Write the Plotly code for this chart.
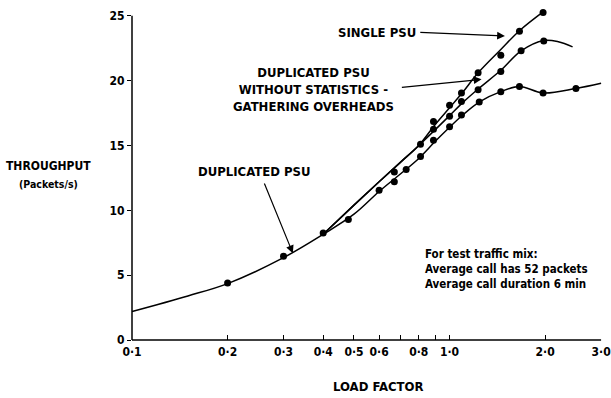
import numpy as np
import plotly.graph_objects as go

# Smooth curve nodes (load factor vs throughput, packets/s)
dup_x = [0.1, 0.15, 0.2, 0.3, 0.4, 0.5, 0.6, 0.7, 0.8, 0.9, 1.0, 1.1, 1.25, 1.45, 1.66, 1.97, 2.5, 3.0]
dup_y = [2.2, 3.4, 4.35, 6.35, 8.15, 9.7, 11.45, 12.8, 14.0, 15.3, 16.4, 17.35, 18.4, 19.15, 19.55, 19.05, 19.4, 19.8]

single_x = [0.4, 0.5, 0.6, 0.7, 0.8, 0.9, 1.0, 1.1, 1.23, 1.45, 1.66, 1.97]
single_y = [8.15, 10.4, 12.2, 13.7, 15.0, 16.6, 17.9, 19.1, 20.6, 22.4, 23.85, 25.3]

nostat_x = [0.4, 0.5, 0.6, 0.7, 0.8, 0.9, 1.0, 1.1, 1.23, 1.45, 1.68, 1.98, 2.2, 2.44]
nostat_y = [8.15, 10.4, 12.2, 13.7, 15.0, 16.2, 17.3, 18.3, 19.35, 20.8, 22.3, 23.1, 23.0, 22.6]

# Measured points
dup_pts_x = [0.2, 0.3, 0.4, 0.48, 0.6, 0.67, 0.73, 0.81, 0.89, 1.0, 1.09, 1.24, 1.45, 1.66, 1.97, 2.5]
dup_pts_y = [4.4, 6.45, 8.25, 9.3, 11.55, 12.2, 13.15, 14.15, 15.4, 16.45, 17.35, 18.35, 19.15, 19.55, 19.05, 19.4]

single_pts_x = [0.67, 0.81, 0.89, 1.0, 1.09, 1.23, 1.45, 1.66, 1.97]
single_pts_y = [12.95, 15.1, 16.85, 18.1, 19.05, 20.6, 21.95, 23.8, 25.25]

nostat_pts_x = [0.89, 1.0, 1.09, 1.23, 1.45, 1.68, 1.98]
nostat_pts_y = [16.25, 17.25, 18.4, 19.3, 20.7, 22.3, 23.05]

x_tick_vals = [0.1, 0.2, 0.3, 0.4, 0.5, 0.6, 0.7, 0.8, 0.9, 1.0, 2.0, 3.0]
x_tick_text = ["0·1", "0·2", "0·3", "0·4", "0·5", "0·6", "", "0·8", "", "1·0", "2·0", "3·0"]
y_tick_vals = [0, 5, 10, 15, 20, 25]
Y_TOP = 25      # end of the drawn throughput axis
Y_VIEW = 25.6   # a little headroom so the top points are not clipped
X_START = 0.1
X_END = 3.0
X_VIEW = 3.02   # keeps the 3·0 tick inside the axis range

FONT = "DejaVu Sans Condensed, Liberation Sans Narrow, Arial Narrow, sans-serif"
lx = np.log10

fig = go.Figure()

for cx, cy in [(dup_x, dup_y), (single_x, single_y), (nostat_x, nostat_y)]:
    fig.add_trace(go.Scatter(x=cx, y=cy, mode="lines",
                             line=dict(color="black", width=1.5, shape="spline", smoothing=1.0),
                             hoverinfo="skip", showlegend=False, cliponaxis=False))

for px, py in [(dup_pts_x, dup_pts_y), (single_pts_x, single_pts_y), (nostat_pts_x, nostat_pts_y)]:
    fig.add_trace(go.Scatter(x=px, y=py, mode="markers",
                             marker=dict(color="black", size=7),
                             showlegend=False, cliponaxis=False))

arrow = dict(showarrow=True, arrowhead=2, arrowsize=1.3, arrowwidth=1.2, arrowcolor="black",
             xref="x", yref="y", axref="x", ayref="y", text="")

label_font = dict(family=FONT, size=13, color="black", weight="bold")

annotations = [
    dict(x=lx(0.589), y=23.73, text="SINGLE PSU", showarrow=False, xref="x", yref="y",
         font=label_font),
    dict(arrow, x=lx(1.494), y=23.45, ax=lx(0.80), ay=23.73),
    dict(x=lx(0.373), y=19.31, text="DUPLICATED PSU<br>WITHOUT STATISTICS -<br>GATHERING OVERHEADS",
         showarrow=False, xref="x", yref="y", align="center", font=label_font),
    dict(arrow, x=lx(1.261), y=20.1, ax=lx(0.70), ay=19.47),
    dict(x=lx(0.243), y=13.0, text="DUPLICATED PSU", showarrow=False, xref="x", yref="y",
         font=label_font),
    dict(arrow, x=lx(0.321), y=6.69, ax=lx(0.26), ay=12.19),
    dict(x=lx(0.824), y=5.48, text="For test traffic mix:<br>Average call has 52 packets<br>Average call duration 6 min",
         showarrow=False, xref="x", yref="y", xanchor="left", align="left",
         font=dict(family=FONT, size=11.5, color="black", weight="bold")),
    dict(x=-0.177, y=0.536 * Y_TOP / Y_VIEW, xref="paper", yref="paper", text="THROUGHPUT",
         showarrow=False, xanchor="center", font=dict(family=FONT, size=12, color="black", weight="bold")),
    dict(x=-0.177, y=0.48 * Y_TOP / Y_VIEW, xref="paper", yref="paper", text="(Packets/s)",
         showarrow=False, xanchor="center", font=dict(family=FONT, size=10.5, color="black", weight="bold")),
    dict(x=lx(0.593), y=-0.14, xref="x", yref="paper", text="LOAD FACTOR", showarrow=False,
         xanchor="center", yanchor="middle", font=label_font),
]

# throughput axis drawn only up to 25, load-factor axis only up to 3·0
shapes = [
    dict(type="line", xref="paper", yref="y", x0=0, x1=0, y0=0, y1=Y_TOP,
         line=dict(color="black", width=1.5)),
    dict(type="line", xref="x", yref="paper", x0=X_START, x1=X_END, y0=0, y1=0,
         line=dict(color="black", width=1.5)),
]

plot_h = 324 * Y_VIEW / Y_TOP
decade_px = 317.7
plot_w = decade_px * (lx(X_VIEW) - lx(X_START))
fig.update_layout(
    width=611, height=398,
    margin=dict(l=132, r=611 - 132 - plot_w, t=398 - 58 - plot_h, b=58, autoexpand=False),
    paper_bgcolor="white", plot_bgcolor="white",
    font=dict(family=FONT, color="black"),
    annotations=annotations, shapes=shapes,
    xaxis=dict(type="log", range=[lx(X_START), lx(X_VIEW)], tickvals=x_tick_vals, ticktext=x_tick_text,
               ticks="inside", ticklen=5, tickwidth=1.2, tickcolor="black", automargin=False,
               showline=False, showgrid=False, zeroline=False, ticklabelstandoff=3,
               tickfont=dict(family=FONT, size=12, color="black", weight="bold")),
    yaxis=dict(range=[0, Y_VIEW], tickvals=y_tick_vals, ticks="outside", ticklen=4, tickwidth=1.2,
               tickcolor="black", showline=False, showgrid=False, zeroline=False, automargin=False,
               tickfont=dict(family=FONT, size=12, color="black", weight="bold")),
)

fig.write_html("out.html")
